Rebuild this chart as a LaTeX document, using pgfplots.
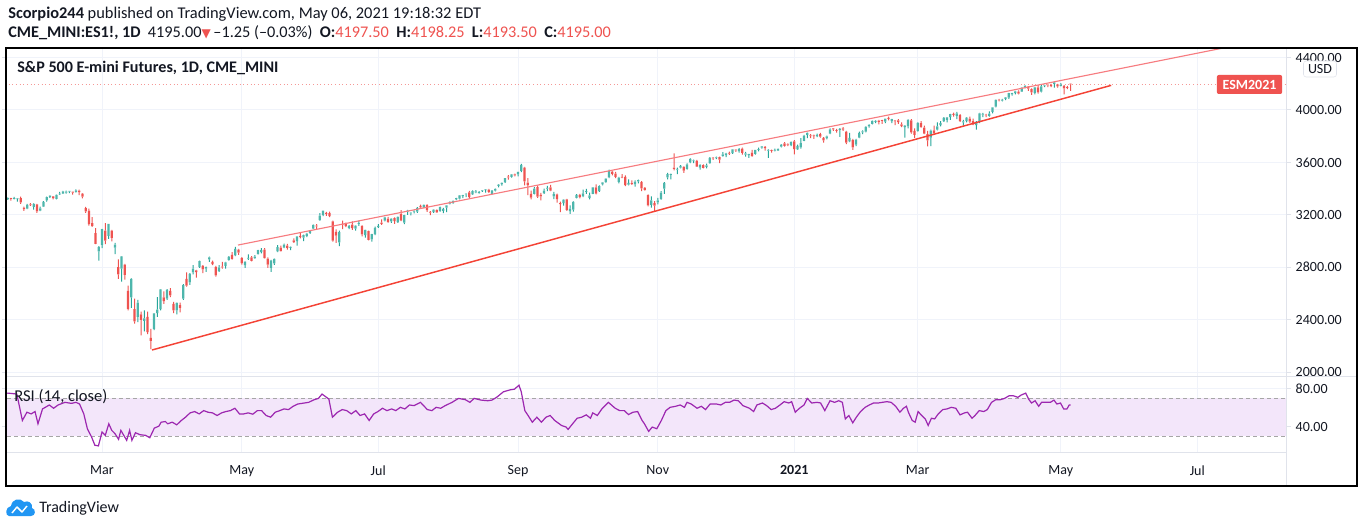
\documentclass[border=0pt]{standalone}
\usepackage{pgfplots}
\pgfplotsset{compat=1.18}
\usepackage{pgfplotstable}
\usepackage{fontspec}
\setmainfont{Carlito}
\newfontfamily\dejavu{DejaVu Sans}
\definecolor{upc}{HTML}{26A69A}
\definecolor{upb}{HTML}{4DB6AC}
\definecolor{dnc}{HTML}{EF5350}
\definecolor{gridc}{HTML}{F0F3FA}
\definecolor{sepc}{HTML}{E0E3EB}
\definecolor{txt}{HTML}{131722}
\definecolor{rsic}{HTML}{9C27B0}
\definecolor{rsifill}{HTML}{F3E6FA}
\definecolor{trend}{HTML}{F44336}
\definecolor{trendlt}{HTML}{F77C80}
\definecolor{tvblue}{HTML}{2196F3}

\pgfplotstableread{
i o h l c
-33 3275 3290 3270 3288
-32 3287 3295 3276 3283
-31 3282 3298 3278 3289
-30 3292 3318 3290 3317
-29 3318 3331 3314 3330
-28 3324 3330 3308 3321
-27 3321 3336 3318 3322
-26 3320 3328 3300 3326
-25 3328 3338 3284 3295
-24 3255 3262 3230 3244
-23 3248 3284 3244 3276
-22 3280 3290 3268 3273
-21 3260 3288 3240 3284
-20 3280 3284 3215 3226
-19 3232 3262 3228 3249
-18 3262 3305 3260 3298
-17 3310 3338 3300 3335
-16 3335 3348 3330 3346
-15 3340 3342 3318 3328
-14 3322 3354 3318 3352
-13 3356 3375 3352 3358
-12 3362 3382 3360 3379
-11 3370 3385 3362 3374
-10 3376 3382 3366 3380
-9 3372 3374 3354 3370
-8 3374 3394 3372 3386
-7 3384 3392 3350 3373
-6 3362 3366 3326 3338
-5 3250 3260 3214 3226
-4 3232 3248 3118 3128
-3 3136 3182 3108 3116
-2 3060 3098 2976 2979
-1 2920 2960 2850 2954
0 2970 3092 2945 3090
1 3080 3136 2976 3003
2 3040 3130 3016 3130
3 3080 3084 2998 3024
4 2950 2985 2900 2972
5 2800 2860 2710 2746
6 2790 2884 2690 2882
7 2820 2826 2706 2741
8 2620 2660 2470 2481
9 2570 2714 2490 2711
10 2480 2560 2370 2386
11 2420 2550 2380 2529
12 2440 2460 2280 2398
13 2390 2470 2310 2409
14 2420 2460 2290 2305
15 2260 2330 2174 2237
16 2330 2450 2320 2447
17 2450 2572 2420 2476
18 2480 2632 2470 2630
19 2570 2615 2520 2541
20 2560 2632 2550 2627
21 2620 2640 2572 2585
22 2520 2535 2450 2471
23 2470 2530 2440 2527
24 2510 2530 2455 2489
25 2560 2670 2550 2664
26 2710 2760 2652 2659
27 2685 2755 2665 2750
28 2760 2815 2745 2790
29 2775 2780 2720 2762
30 2800 2850 2795 2846
31 2810 2815 2755 2783
32 2790 2805 2765 2800
33 2860 2880 2840 2875
34 2840 2850 2815 2823
35 2800 2810 2728 2737
36 2770 2815 2765 2799
37 2800 2840 2790 2798
38 2810 2840 2790 2837
39 2855 2885 2850 2878
40 2895 2915 2858 2863
41 2890 2955 2885 2940
42 2935 2940 2895 2912
43 2870 2876 2820 2831
44 2815 2845 2795 2843
45 2865 2898 2855 2868
46 2875 2885 2845 2848
47 2870 2892 2865 2881
48 2900 2932 2898 2930
49 2915 2945 2905 2930
50 2935 2945 2868 2870
51 2865 2875 2795 2820
52 2795 2855 2765 2852
53 2830 2866 2818 2864
54 2920 2968 2915 2954
55 2950 2964 2920 2923
56 2950 2980 2945 2972
57 2965 2978 2935 2948
58 2948 2958 2930 2955
59 3005 3020 2986 2992
60 3000 3036 2965 3036
61 3040 3065 3020 3030
62 3025 3048 3000 3044
63 3040 3062 3030 3056
64 3062 3082 3055 3081
65 3095 3125 3090 3123
66 3118 3128 3090 3112
67 3160 3212 3155 3194
68 3200 3232 3190 3232
69 3215 3222 3192 3207
70 3212 3225 3182 3190
71 3150 3155 2995 3002
72 3070 3088 2985 3041
73 2990 3080 2960 3067
74 3130 3155 3090 3125
75 3130 3140 3105 3113
76 3100 3122 3090 3115
77 3125 3150 3085 3098
78 3095 3120 3080 3118
79 3130 3155 3115 3131
80 3115 3120 3035 3050
81 3045 3085 3025 3084
82 3075 3080 3005 3009
83 3012 3055 2995 3053
84 3050 3110 3045 3100
85 3105 3128 3100 3116
86 3140 3165 3124 3130
87 3155 3185 3150 3180
88 3170 3185 3140 3145
89 3150 3172 3138 3170
90 3175 3180 3130 3152
91 3145 3186 3138 3185
92 3205 3236 3152 3155
93 3140 3200 3128 3198
94 3225 3238 3200 3227
95 3210 3218 3195 3216
96 3225 3232 3210 3225
97 3225 3258 3215 3252
98 3268 3278 3245 3257
99 3255 3278 3250 3276
100 3275 3280 3222 3236
101 3218 3228 3198 3216
102 3220 3242 3215 3239
103 3235 3242 3215 3218
104 3228 3262 3225 3258
105 3230 3252 3212 3246
106 3255 3272 3220 3271
107 3285 3302 3280 3295
108 3290 3308 3285 3307
109 3318 3330 3312 3328
110 3324 3350 3318 3349
111 3342 3352 3328 3351
112 3356 3364 3335 3360
113 3372 3382 3325 3334
114 3355 3386 3352 3380
115 3372 3388 3365 3373
116 3368 3380 3362 3373
117 3380 3388 3375 3382
118 3388 3396 3370 3390
119 3392 3398 3368 3375
120 3360 3388 3355 3386
121 3384 3400 3378 3397
122 3420 3434 3410 3431
123 3435 3445 3422 3444
124 3450 3480 3444 3479
125 3486 3502 3468 3485
126 3490 3510 3484 3508
127 3508 3514 3494 3500
128 3508 3528 3494 3527
129 3535 3588 3525 3581
130 3560 3565 3425 3455
131 3445 3480 3350 3427
132 3360 3385 3318 3332
133 3360 3412 3355 3399
134 3412 3425 3330 3339
135 3352 3368 3310 3341
136 3365 3400 3360 3384
137 3400 3420 3380 3401
138 3410 3428 3380 3385
139 3340 3375 3320 3357
140 3355 3362 3292 3319
141 3290 3300 3220 3281
142 3290 3318 3270 3316
143 3318 3322 3230 3237
144 3228 3272 3208 3247
145 3240 3302 3225 3298
146 3330 3358 3325 3352
147 3352 3360 3325 3335
148 3340 3392 3335 3363
149 3375 3398 3360 3381
150 3330 3370 3318 3348
151 3360 3410 3358 3409
152 3410 3432 3355 3361
153 3380 3425 3375 3419
154 3432 3448 3425 3447
155 3450 3478 3445 3477
156 3485 3545 3480 3534
157 3530 3535 3500 3512
158 3515 3528 3480 3489
159 3452 3490 3440 3483
160 3488 3510 3480 3484
161 3490 3500 3418 3427
162 3430 3470 3425 3443
163 3440 3462 3428 3436
164 3432 3462 3415 3453
165 3455 3468 3440 3465
166 3450 3458 3380 3401
167 3405 3412 3385 3391
168 3350 3355 3265 3271
169 3275 3340 3255 3310
170 3290 3305 3228 3270
171 3295 3330 3280 3310
172 3320 3380 3315 3369
173 3400 3450 3360 3443
174 3485 3520 3470 3510
175 3505 3515 3470 3509
176 3560 3668 3540 3550
177 3545 3560 3510 3546
178 3560 3580 3555 3573
179 3565 3570 3520 3537
180 3550 3592 3545 3585
181 3600 3630 3595 3627
182 3610 3622 3595 3610
183 3612 3620 3566 3568
184 3560 3585 3545 3582
185 3580 3585 3555 3558
186 3565 3590 3555 3578
187 3595 3640 3590 3635
188 3635 3640 3620 3630
189 3632 3645 3625 3638
190 3640 3645 3595 3622
191 3650 3678 3645 3662
192 3655 3672 3640 3669
193 3668 3682 3658 3667
194 3670 3700 3665 3699
195 3695 3700 3680 3692
196 3685 3708 3675 3702
197 3705 3712 3660 3673
198 3660 3680 3645 3668
199 3655 3665 3635 3663
200 3675 3695 3645 3647
201 3665 3695 3660 3695
202 3696 3712 3685 3701
203 3712 3725 3705 3722
204 3718 3725 3690 3709
205 3690 3700 3635 3695
206 3690 3698 3675 3687
207 3690 3705 3685 3690
208 3690 3705 3688 3703
209 3720 3740 3715 3735
210 3745 3755 3720 3727
211 3735 3745 3725 3732
212 3732 3758 3725 3756
213 3760 3770 3662 3701
214 3700 3735 3695 3727
215 3715 3785 3705 3748
216 3765 3810 3762 3804
217 3810 3828 3785 3825
218 3805 3815 3785 3800
219 3802 3812 3780 3801
220 3800 3820 3792 3810
221 3815 3825 3790 3796
222 3788 3792 3750 3768
223 3785 3805 3775 3799
224 3820 3860 3815 3852
225 3855 3862 3840 3853
226 3845 3855 3828 3841
227 3848 3862 3795 3855
228 3860 3870 3840 3850
229 3835 3840 3740 3751
230 3760 3825 3755 3787
231 3770 3780 3695 3714
232 3735 3780 3725 3774
233 3790 3835 3785 3826
234 3830 3845 3815 3830
235 3835 3875 3830 3872
236 3875 3890 3865 3887
237 3895 3918 3890 3916
238 3910 3920 3900 3911
239 3918 3925 3890 3910
240 3918 3925 3895 3916
241 3912 3935 3900 3935
242 3940 3950 3920 3933
243 3915 3932 3900 3931
244 3915 3920 3885 3914
245 3920 3930 3895 3907
246 3890 3905 3870 3877
247 3870 3885 3790 3881
248 3875 3928 3860 3925
249 3920 3930 3820 3829
250 3840 3860 3788 3811
251 3840 3905 3835 3902
252 3900 3915 3865 3870
253 3865 3880 3815 3820
254 3815 3840 3722 3768
255 3790 3850 3725 3842
256 3845 3880 3820 3821
257 3850 3905 3845 3875
258 3885 3915 3875 3899
259 3915 3945 3910 3939
260 3925 3945 3905 3943
261 3945 3970 3925 3969
262 3970 3980 3950 3963
263 3955 3985 3930 3974
264 3960 3968 3910 3915
265 3905 3925 3880 3913
266 3915 3945 3905 3941
267 3935 3950 3900 3911
268 3915 3935 3885 3889
269 3885 3915 3850 3910
270 3910 3978 3900 3975
271 3965 3978 3945 3971
272 3965 3970 3945 3959
273 3955 3990 3950 3973
274 3985 4020 3975 4020
275 4025 4080 4020 4078
276 4075 4085 4065 4074
277 4072 4085 4065 4080
278 4085 4098 4075 4097
279 4095 4130 4085 4129
280 4120 4130 4110 4128
281 4128 4145 4120 4142
282 4140 4150 4120 4125
283 4140 4172 4138 4170
284 4172 4188 4165 4185
285 4178 4182 4145 4163
286 4160 4165 4115 4135
287 4130 4175 4120 4173
288 4172 4190 4125 4135
289 4140 4190 4135 4180
290 4182 4192 4175 4188
291 4188 4195 4175 4187
292 4185 4200 4175 4183
293 4200 4218 4170 4211
294 4195 4200 4170 4181
295 4185 4205 4180 4193
296 4185 4190 4120 4165
297 4170 4185 4160 4168
298 4197.5 4202 4145 4195
}\ohlc

\pgfplotstableread{
i r
-33 75.0
-28.9 75.6
-26.2 74.6
-24.5 46.5
-23.1 55.3
-21.8 53.5
-20.6 56.0
-19.7 43.0
-18.3 58.8
-16.2 63.0
-14.9 59.5
-13.5 63.0
-11.4 65.8
-9.4 64.7
-8.0 65.8
-6.9 64.0
-5.6 53.5
-4.5 37.7
-3.2 28.9
-2.2 20.2
-1.1 19.5
0 34.2
1.0 30.7
2.1 43.0
3.0 36.0
4.0 32.5
5.1 26.5
5.8 36.0
6.7 30.7
7.6 25.4
8.5 36.0
9.2 25.4
10.3 33.5
11.7 31.4
13.4 30.7
14.7 28.2
16.1 38.4
17.5 40.5
18.2 44.7
19.5 45.4
20.2 43.0
21.6 44.7
23.0 41.9
24.4 46.5
25.7 50.0
27.1 54.6
28.5 56.0
29.9 53.5
31.3 57.0
32.6 55.3
34.0 54.6
35.4 51.8
36.8 54.6
38.1 56.0
39.5 57.0
40.9 59.5
42.3 53.5
43.6 53.5
45.0 54.6
46.4 53.2
47.8 57.0
49.1 57.0
50.5 51.8
51.9 50.0
53.3 55.3
54.7 57.0
56.0 58.8
57.4 58.1
58.8 61.6
60.2 64.0
61.5 64.7
63.6 65.8
65.0 68.2
66.6 70.0
67.7 74.6
69.8 69.3
70.9 50.0
72.5 55.3
73.9 58.1
75.3 57.0
76.7 53.5
78.1 57.0
79.4 51.8
80.8 53.5
82.2 46.5
83.6 53.5
84.9 56.0
86.3 59.5
87.7 57.0
89.1 58.8
90.4 57.0
91.8 60.5
93.2 58.8
94.6 63.0
96.0 62.3
98.0 65.8
100.1 58.1
101.5 57.0
102.8 60.5
104.2 59.5
105.6 62.3
107.7 65.8
109.7 70.0
111.8 68.6
113.2 65.8
114.5 70.0
116.6 68.2
118.7 67.5
120.0 68.2
121.4 71.1
123.5 77.0
125.6 79.1
126.9 79.8
128.3 84.0
129.0 77.0
130.1 57.0
131.1 51.8
132.4 44.7
133.8 50.0
135.2 44.7
136.6 50.0
137.9 51.8
139.3 46.5
141.4 41.2
142.8 39.5
143.4 37.0
144.8 43.0
146.2 48.9
147.6 50.0
149.0 52.5
150.3 48.9
151.0 54.6
152.4 51.8
153.8 58.8
155.8 65.8
157.9 59.5
159.3 57.0
160.7 57.0
162.0 52.8
163.4 55.3
164.8 56.0
166.2 46.5
166.9 43.0
168.2 34.9
169.3 39.5
170.7 37.7
172.1 46.5
173.5 57.0
174.8 60.5
176.5 61.6
177.9 63.0
179.2 60.5
180.0 65.8
181.3 64.0
183.1 59.5
184.4 61.6
185.7 58.1
187.1 64.0
189.1 64.0
190.4 63.0
191.8 65.8
193.1 65.8
194.5 68.2
195.8 67.5
197.2 62.3
199.2 59.5
200.5 56.0
201.5 63.0
203.2 65.1
204.5 62.3
205.9 58.1
207.2 59.5
208.6 63.0
209.9 66.5
211.3 65.1
212.2 66.5
213.3 55.3
214.6 59.5
216.0 63.0
217.0 70.0
218.4 65.1
220.0 65.8
221.1 65.1
222.4 57.0
224.0 67.5
225.4 65.8
226.7 67.5
227.8 65.8
228.7 48.2
229.8 51.8
231.0 44.0
232.1 50.0
233.4 56.0
234.8 60.5
236.1 63.0
237.4 65.1
238.8 65.1
240.1 65.8
241.5 66.5
242.8 65.8
244.2 61.6
245.5 55.3
246.6 59.5
247.5 61.6
248.2 54.6
249.3 46.5
250.2 44.7
251.1 56.0
252.2 51.8
253.3 48.2
254.2 41.2
255.2 48.9
256.2 48.2
257.3 53.5
258.7 58.1
260.0 58.8
261.3 60.5
262.7 59.5
264.0 52.5
265.4 54.6
266.3 55.3
267.7 48.9
268.6 51.8
269.9 57.0
271.3 56.0
272.4 58.1
273.7 65.8
275.0 68.6
276.4 68.6
277.7 70.0
279.1 72.8
280.4 72.8
281.8 71.1
282.8 73.5
284.2 75.6
285.1 69.3
286.0 65.1
287.1 67.5
288.2 61.6
289.1 65.8
290.5 65.8
291.8 65.8
292.9 68.2
293.8 64.0
294.9 65.1
295.9 58.8
296.9 58.8
297.6 63.0
298.0 63.0
}\rsi

\pgfplotsset{
  tvscale/.style={
    /pgf/number format/assume math mode=true,
    /pgf/number format/fixed,
    /pgf/number format/fixed zerofill,
    /pgf/number format/precision=2,
    /pgf/number format/1000 sep={},
  },
  pricegeom/.style={
    at={(pa)}, anchor=south west, scale only axis,
    width=959.25pt, height=245.25pt,
    xmin=-29.23, xmax=364.3, ymin=1969.5, ymax=4465.6,
  },
}

\begin{document}
\begin{tikzpicture}[x=0.75pt,y=-0.75pt]
\useasboundingbox (0,0) rectangle (1364,524);
\fill[white] (0,0) rectangle (1364,524);
\coordinate (pa) at (7,376);
\coordinate (ra) at (7,452);

% header
\node[anchor=west, inner sep=0pt, text=txt, font=\fontsize{12.3}{14}\selectfont] at (8,14)
  {\textbf{Scorpio244} published on TradingView.com, May 06, 2021 19:18:32 EDT};
\node[anchor=west, inner sep=0pt, text=txt, font=\fontsize{12.2}{14}\selectfont] at (8,33)
  {\textbf{CME\_MINI:ES1!, 1D}\ \ 4195.00{\color{dnc}\dejavu\fontsize{9}{10}\selectfont\raisebox{0.3pt}{▼}}\,–1.25 (–0.03\%)\ \ \textbf{O:}{\color{dnc}4197.50}\ \ \textbf{H:}{\color{dnc}4198.25}\ \ \textbf{L:}{\color{dnc}4193.50}\ \ \textbf{C:}{\color{dnc}4195.00}};

% price panel: grid and scale
\begin{axis}[
  pricegeom,
  axis line style={draw=none},
  xtick={0,43,85,128,171,213,251,295,337}, xticklabels={},
  xtick style={draw=none},
  ytick={2000,2400,2800,3200,3600,4000,4400},
  yticklabel pos=right,
  ytick style={draw=sepc, line width=0.75pt},
  tick align=outside, major tick length=3.75pt,
  grid=major, major grid style={gridc, line width=0.75pt},
  tvscale,
  y tick label style={font=\fontsize{10.5}{12}\selectfont, text=txt, anchor=west},
]
\addplot[dnc!60, dotted, line width=0.75pt] coordinates {(-40,4195) (400,4195)};
\end{axis}

% candles
\begin{axis}[pricegeom, hide axis, clip=true, ybar stacked, bar width=0.75pt]
\addplot[draw=none, fill=none] table[x=i, y=l] {\ohlc};
\addplot[draw=none, fill=upc, bar width=0.75pt] table[x=i, y expr={\thisrow{c}>=\thisrow{o} ? min(\thisrow{o},\thisrow{c})-\thisrow{l} : 0}] {\ohlc};
\addplot[draw=none, fill=dnc, bar width=0.75pt] table[x=i, y expr={\thisrow{c}<\thisrow{o} ? min(\thisrow{o},\thisrow{c})-\thisrow{l} : 0}] {\ohlc};
\addplot[draw=none, fill=upb, bar width=1.8pt] table[x=i, y expr={\thisrow{c}>=\thisrow{o} ? max(abs(\thisrow{c}-\thisrow{o}),6) : 0}] {\ohlc};
\addplot[draw=none, fill=dnc, bar width=1.8pt] table[x=i, y expr={\thisrow{c}<\thisrow{o} ? max(abs(\thisrow{c}-\thisrow{o}),6) : 0}] {\ohlc};
\addplot[draw=none, fill=upc, bar width=0.75pt] table[x=i, y expr={\thisrow{c}>=\thisrow{o} ? max(\thisrow{h}-min(\thisrow{o},\thisrow{c})-max(abs(\thisrow{c}-\thisrow{o}),6),0) : 0}] {\ohlc};
\addplot[draw=none, fill=dnc, bar width=0.75pt] table[x=i, y expr={\thisrow{c}<\thisrow{o} ? max(\thisrow{h}-min(\thisrow{o},\thisrow{c})-max(abs(\thisrow{c}-\thisrow{o}),6),0) : 0}] {\ohlc};
\end{axis}

% trend lines
\begin{axis}[pricegeom, hide axis, clip=true]
\addplot[trendlt, line width=0.85pt] coordinates {(41.85,2969) (350,4498)};
\addplot[trend, line width=1.1pt] coordinates {(15.4,2168) (310.5,4188)};
\end{axis}

% RSI panel
\begin{axis}[
  at={(ra)}, anchor=south west, scale only axis,
  width=959.25pt, height=57pt,
  xmin=-29.23, xmax=364.3, ymin=13, ymax=93.8,
  axis line style={draw=none},
  xtick={0,43,85,128,171,213,251,295,337},
  xticklabels={Mar,May,Jul,Sep,Nov,\textbf{2021},Mar,May,Jul},
  xtick style={draw=none},
  x tick label style={font=\fontsize{10.5}{12}\selectfont, text=txt, yshift=-3pt},
  ytick={40,80},
  yticklabel pos=right,
  ytick style={draw=sepc, line width=0.75pt},
  tick align=outside, major tick length=3.75pt,
  grid=major, major grid style={gridc, line width=0.75pt},
  tvscale,
  y tick label style={font=\fontsize{10.5}{12}\selectfont, text=txt, anchor=west},
  clip=true,
]
\addplot[draw=none, fill=rsifill, forget plot] coordinates {(-40,30) (400,30) (400,70) (-40,70)} -- cycle;
\addplot[black!35, dash pattern=on 3pt off 2.25pt, line width=0.6pt] coordinates {(-40,70) (400,70)};
\addplot[black!35, dash pattern=on 3pt off 2.25pt, line width=0.6pt] coordinates {(-40,30) (400,30)};
\addplot[rsic, line width=0.9pt] table[x=i, y=r] {\rsi};
\end{axis}

% panel lines and frame
\draw[sepc, line width=0.75pt] (1286,48) -- (1286,486);
\draw[sepc, line width=0.75pt] (6,376) -- (1357,376);
\draw[sepc, line width=0.75pt] (6,452) -- (1286,452);
\draw[black, line width=1.5pt] (6,48) rectangle (1357,486);

% titles
\node[anchor=west, inner sep=0pt, text=txt, font=\bfseries\fontsize{12.1}{14}\selectfont] at (17,68) {S\&P 500 E-mini Futures, 1D, CME\_MINI};
\node[anchor=west, inner sep=0pt, text=txt, font=\fontsize{12.4}{14}\selectfont] at (14,397) {RSI (14, close)};

% labels on price scale
\node[fill=dnc, text=white, font=\bfseries\fontsize{10.5}{12}\selectfont, rounded corners=1.5pt, minimum width=49pt, minimum height=14.25pt, inner sep=0pt] at (1249.5,84.5) {ESM2021};
\node[fill=white, draw=sepc, text=txt, font=\fontsize{10.5}{12}\selectfont, rounded corners=2pt, minimum width=24.75pt, minimum height=12pt, inner sep=0.5pt] at (1320,69) {USD};

% logo
\fill[tvblue] (9,516) .. controls (5,516) and (5,507) .. (11,506) .. controls (12,499) and (20,497) .. (24,502) .. controls (28,500) and (33,503) .. (32,508) .. controls (36,509) and (36,516) .. (31,516) -- cycle;
\draw[white, line width=1.1pt, line join=round] (12,513) -- (17,507) -- (22,512) -- (27,506);
\node[anchor=west, inner sep=0pt, text=txt, font=\fontsize{12}{14}\selectfont] at (39,508) {TradingView};
\end{tikzpicture}
\end{document}
